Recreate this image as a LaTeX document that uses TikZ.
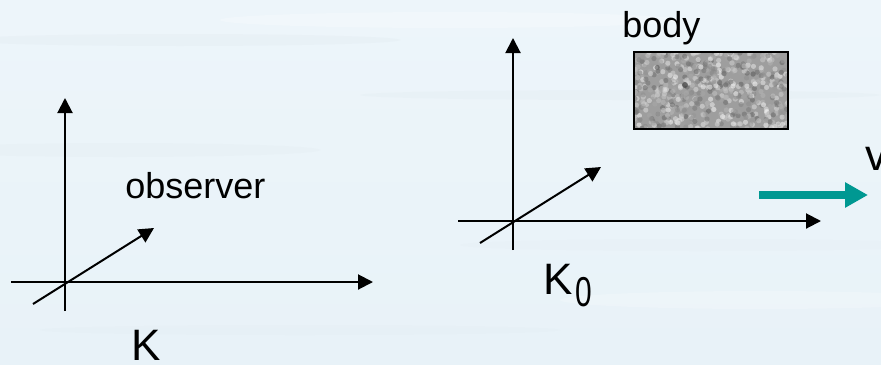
\documentclass[tikz,border=0pt]{standalone}
\usepackage{tikz}
\usetikzlibrary{arrows.meta}
\usepackage{xcolor}
\usepackage{graphicx}
\usepackage{fontspec}
\setmainfont{Liberation Sans}
\definecolor{seabg}{RGB}{237,245,250}
\definecolor{seabot}{RGB}{232,242,248}
\definecolor{streak}{RGB}{224,234,240}
\definecolor{velteal}{RGB}{0,152,146}

\begin{document}
\begin{tikzpicture}[x=0.5pt, y=-0.5pt,
  axis/.style={line width=1pt, -{Triangle[length=7.5pt, width=7.5pt]}},
  lbl/.style={anchor=base west, inner sep=0pt, font=\fontsize{18}{20}\selectfont},
  biglbl/.style={anchor=base west, inner sep=0pt, font=\fontsize{22}{24}\selectfont}]
  \clip (0,0) rectangle (881,364);
  \shade[top color=seabg, bottom color=seabot] (0,0) rectangle (881,364);
  \fill[streak, opacity=0.3] (180,40) ellipse (220 and 6);
  \fill[streak, opacity=0.25] (620,95) ellipse (260 and 5);
  \fill[streak, opacity=0.25] (120,150) ellipse (200 and 7);
  \fill[streak, opacity=0.2] (700,245) ellipse (240 and 6);
  \fill[streak, opacity=0.2] (300,330) ellipse (260 and 5);
  \fill[white, opacity=0.25] (450,20) ellipse (230 and 8);
  \fill[white, opacity=0.2] (760,300) ellipse (200 and 9);

  % frame K
  \coordinate (K) at (65,282);
  \coordinate (Kx0) at (11,282);  \coordinate (Kx) at (373,282);
  \coordinate (Ky0) at (65,311);  \coordinate (Ky) at (65,98);
  \coordinate (Kz0) at (33,304);  \coordinate (Kz) at (154,228);
  \draw[axis] (Kx0) -- (Kx);
  \draw[axis] (Ky0) -- (Ky);
  \draw[axis] (Kz0) -- (Kz);
  \node[lbl] (obs) at (125,198) {observer};
  \node[biglbl] (Klbl) at (131,360) {K};

  % frame K0
  \coordinate (O) at (513,221);
  \coordinate (Ox0) at (458,221); \coordinate (Ox) at (821,221);
  \coordinate (Oy0) at (513,250); \coordinate (Oy) at (513,38);
  \coordinate (Oz0) at (480,243); \coordinate (Oz) at (601,167);
  \draw[axis] (Ox0) -- (Ox);
  \draw[axis] (Oy0) -- (Oy);
  \draw[axis] (Oz0) -- (Oz);
  \node[biglbl] (Olbl) at (543,294) {K\kern1.5pt\raisebox{-6pt}{\scalebox{0.68}[0.95]{0}}};

  % body
  \begin{scope}
    \clip (634,52) rectangle (788,129);
    \fill[black!38] (634,52) rectangle (788,129);
    \pgfmathsetseed{11}
    \foreach \n in {1,...,600}{
      \pgfmathsetmacro{\bx}{634+154*rnd}
      \pgfmathsetmacro{\by}{52+77*rnd}
      \pgfmathsetmacro{\bs}{5+55*rnd}
      \fill[black!\bs, opacity=0.6] (\bx,\by) circle (2.6);
    }
    \fill[black!75, opacity=0.7] (685,85) circle (3);
  \end{scope}
  \draw[line width=1pt] (634,52) rectangle (788,129);
  \node[lbl] (bodylbl) at (622,37) {body};

  % velocity
  \coordinate (v0) at (759,195);
  \coordinate (v1) at (868,195);
  \draw[velteal, line width=4pt, -{Triangle[length=11.5pt, width=12pt]}] (v0) -- (v1);
  \node[biglbl] (vlbl) at (865,170) {v};
\end{tikzpicture}
\end{document}
